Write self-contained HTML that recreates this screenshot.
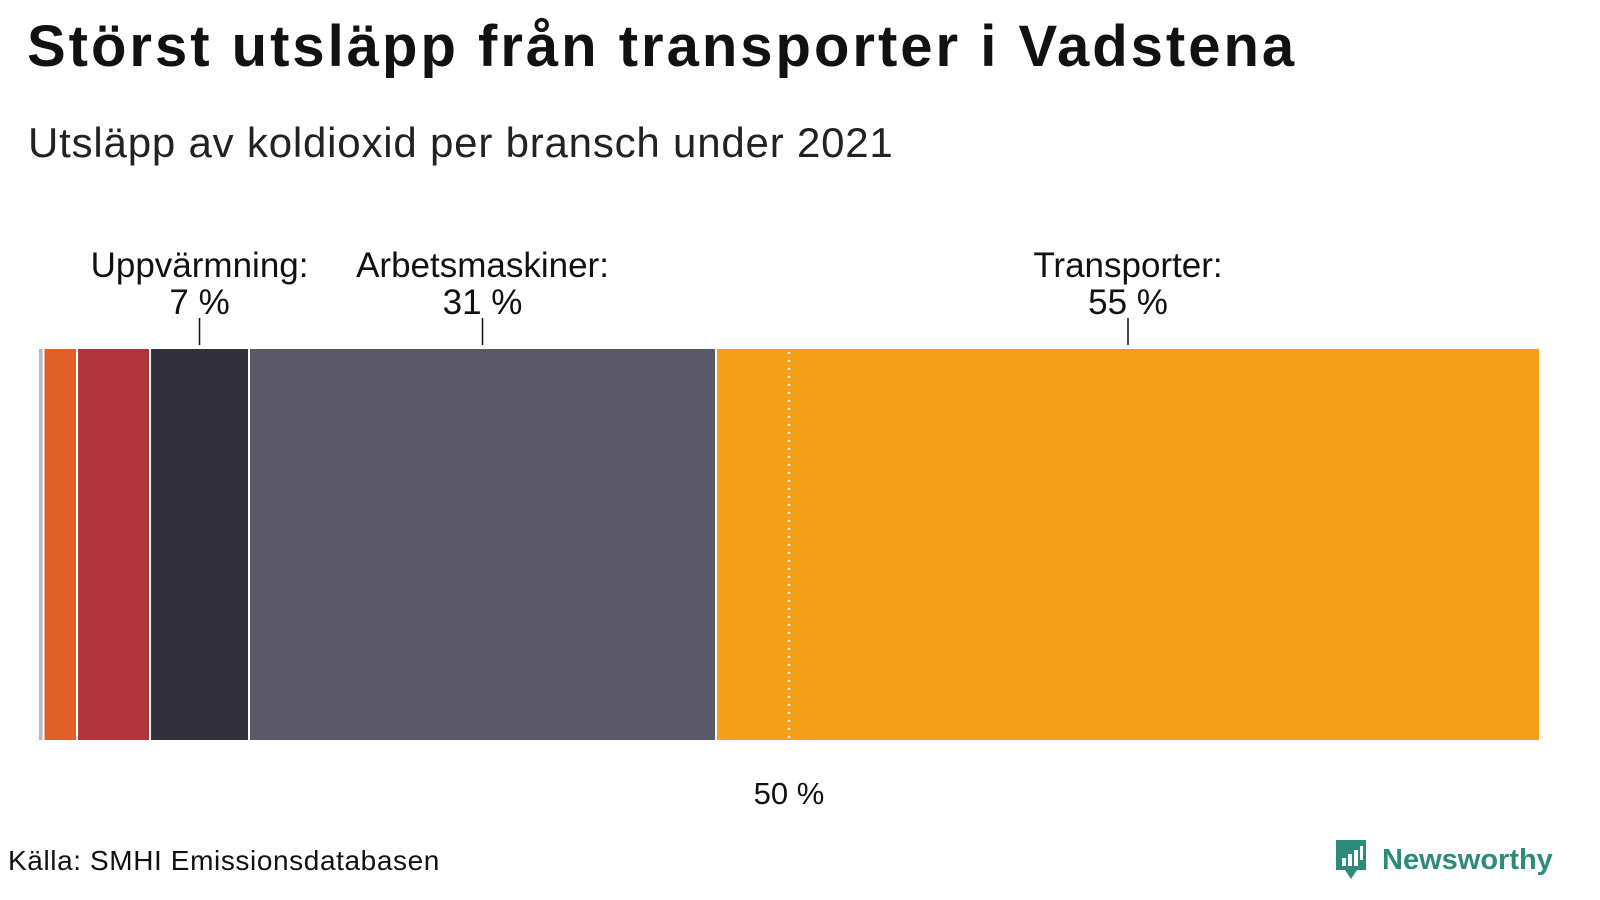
<!DOCTYPE html>
<html><head><meta charset="utf-8">
<style>
body{margin:0;width:1600px;height:900px;background:#fff;font-family:"Liberation Sans",sans-serif;overflow:hidden;position:relative}
.t{position:absolute;white-space:nowrap}
</style></head><body>
<div class="t" style="left:27px;top:13px;font-size:58px;letter-spacing:3px;font-weight:bold;color:#111">Störst utsläpp från transporter i Vadstena</div>
<div class="t" style="left:28px;top:119px;font-size:42px;letter-spacing:0.8px;color:#222">Utsläpp av koldioxid per bransch under 2021</div>
<svg id="chart" width="1600" height="820" style="position:absolute;left:0;top:0"></svg>
<div class="t" style="left:8px;top:845px;font-size:28px;letter-spacing:0.6px;color:#111">Källa: SMHI Emissionsdatabasen</div>
<div class="t" style="left:1333px;top:838px;display:flex;align-items:center">
<svg width="36" height="44" viewBox="0 0 36 44"><path d="M3 2h30v30H24l-6 9-6-9H3z" fill="#2e8b7a"/><rect x="9" y="20" width="4" height="8" fill="#fff"/><rect x="15" y="16" width="4" height="12" fill="#fff"/><rect x="21" y="12" width="4" height="16" fill="#fff"/><rect x="27" y="8" width="3" height="14" fill="#fff"/></svg>
<span style="font-size:29px;font-weight:bold;color:#2e8b7a;margin-left:13px">Newsworthy</span></div>
<script>
const categories=["Övrigt","Industri","Jordbruk","Uppvärmning","Arbetsmaskiner","Transporter"];
const values=[0.37,2.23,4.86,6.59,31.09,54.86];
const labels=["","","","Uppvärmning:\n7 %","Arbetsmaskiner:\n31 %","Transporter:\n55 %"];
const colors=["#b9b8c6","#e0602a","#b0343c","#32303d","#5a5766","#f59e1a"];
const refLine=50;
const svg=document.getElementById('chart');
const NS="http://www.w3.org/2000/svg";
const x0=38,x1=1540,yTop=348,yBot=741;
const total=values.reduce((a,b)=>a+b,0);
const xs=v=>x0+(v/total)*(x1-x0);
function mk(t,a){const e=document.createElementNS(NS,t);for(const k in a)e.setAttribute(k,a[k]);svg.appendChild(e);return e;}
let acc=0;
values.forEach((v,i)=>{
 const a=xs(acc),b=xs(acc+v);
 const r=mk('rect',{x:a,y:yTop,width:b-a,height:yBot-yTop,fill:colors[i],stroke:'#fff','stroke-width':2});
 
 
 if(labels[i]){
  const c=(a+b)/2;const parts=labels[i].split('\n');
  const l=mk('line',{x1:c,x2:c,y1:318,y2:345,stroke:'#111','stroke-width':1.5});
  
  
  parts.forEach((p,j)=>{const t=mk('text',{x:c,y:277+j*37,'text-anchor':'middle','font-size':35,fill:'#111','font-family':'Liberation Sans'});t.textContent=p;
   
   });
 }
 acc+=v;
});
const rx=x0+(refLine/100)*(x1-x0);
const rl=mk('line',{x1:rx,x2:rx,y1:352,y2:740,stroke:'#fff','stroke-width':2.5,'stroke-dasharray':'2 6'});


const rt=mk('text',{x:rx,y:804,'text-anchor':'middle','font-size':31,fill:'#111','font-family':'Liberation Sans'});
rt.textContent=refLine+' %';


</script>
</body></html>
